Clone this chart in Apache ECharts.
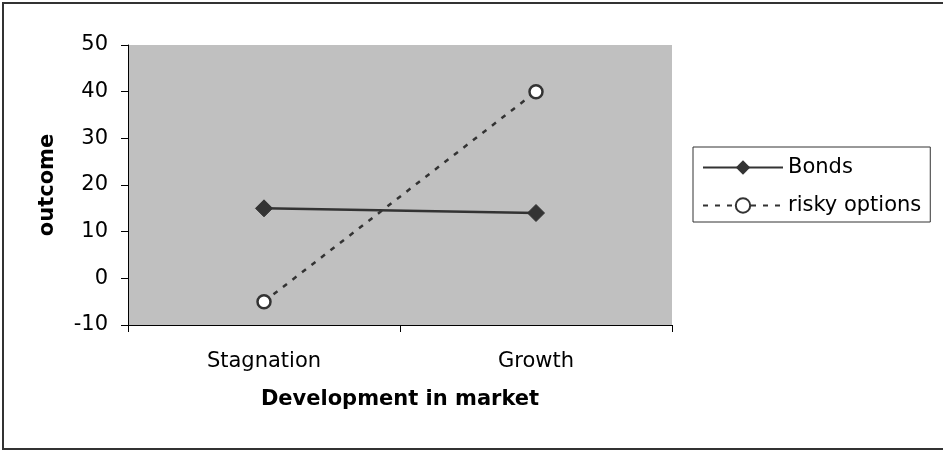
<!DOCTYPE html>
<html>
<head>
<meta charset="utf-8">
<script src="https://cdn.jsdelivr.net/npm/echarts@6/dist/echarts.min.js"></script>
<style>
html,body{margin:0;padding:0;background:#fff;}
#chart{width:943px;height:451px;}
</style>
</head>
<body>
<div id="chart"></div>
<script>
const categories = ['Stagnation', 'Growth'];
const bonds = [15, 14];
const riskyOptions = [-5, 40];
const yMin = -10, yMax = 50, yStep = 10;

const FONT = 'DejaVu Sans';
const chart = echarts.init(document.getElementById('chart'), null, {renderer: 'canvas'});
chart.setOption({
  animation: false,
  backgroundColor: '#ffffff',
  textStyle: {fontFamily: FONT},
  graphic: [{
    type: 'rect',
    shape: {x: 3, y: 3, width: 960, height: 446},
    style: {fill: 'none', stroke: '#333', lineWidth: 2},
    silent: true
  }],
  grid: {
    left: 128, top: 45, right: 271, bottom: 126,
    show: true, backgroundColor: '#c0c0c0', borderWidth: 0
  },
  legend: {
    left: 693, top: 147,
    orient: 'vertical',
    padding: [8, 9, 4, 9],
    borderColor: '#333', borderWidth: 1,
    itemWidth: 80, itemHeight: 18, itemGap: 13,
    textStyle: {fontFamily: FONT, fontSize: 21, color: '#000', lineHeight: 25},
    data: ['Bonds', 'risky options']
  },
  xAxis: {
    type: 'category',
    data: categories,
    boundaryGap: true,
    name: 'Development in market',
    nameLocation: 'middle',
    nameGap: 64,
    nameTextStyle: {fontFamily: FONT, fontSize: 21, fontWeight: 'bold', color: '#000'},
    axisLine: {onZero: false, lineStyle: {color: '#000', width: 1}},
    axisTick: {show: true, alignWithLabel: false, length: 7, lineStyle: {color: '#000'}},
    axisLabel: {fontFamily: FONT, fontSize: 21, color: '#000', margin: 26},
    splitLine: {show: false}
  },
  yAxis: {
    type: 'value',
    min: yMin, max: yMax, interval: yStep,
    name: 'outcome',
    nameLocation: 'middle',
    nameRotate: 90,
    nameGap: 70,
    nameTextStyle: {fontFamily: FONT, fontSize: 21, fontWeight: 'bold', color: '#000'},
    axisLine: {show: true, lineStyle: {color: '#000', width: 1}},
    axisTick: {show: true, length: 7, lineStyle: {color: '#000'}},
    axisLabel: {fontFamily: FONT, fontSize: 21, color: '#000', margin: 20},
    splitLine: {show: false}
  },
  series: [{
    name: 'Bonds',
    type: 'line',
    data: bonds,
    symbol: 'diamond',
    symbolSize: 17,
    itemStyle: {color: '#333', borderColor: '#333'},
    lineStyle: {color: '#333', width: 2.5, type: 'solid'}
  }, {
    name: 'risky options',
    type: 'line',
    data: riskyOptions,
    symbol: 'circle',
    symbolSize: 13,
    itemStyle: {color: '#fff', borderColor: '#333', borderWidth: 2.5},
    lineStyle: {color: '#333', width: 2.5, type: [5, 7]}
  }]
});
</script>
</body>
</html>
